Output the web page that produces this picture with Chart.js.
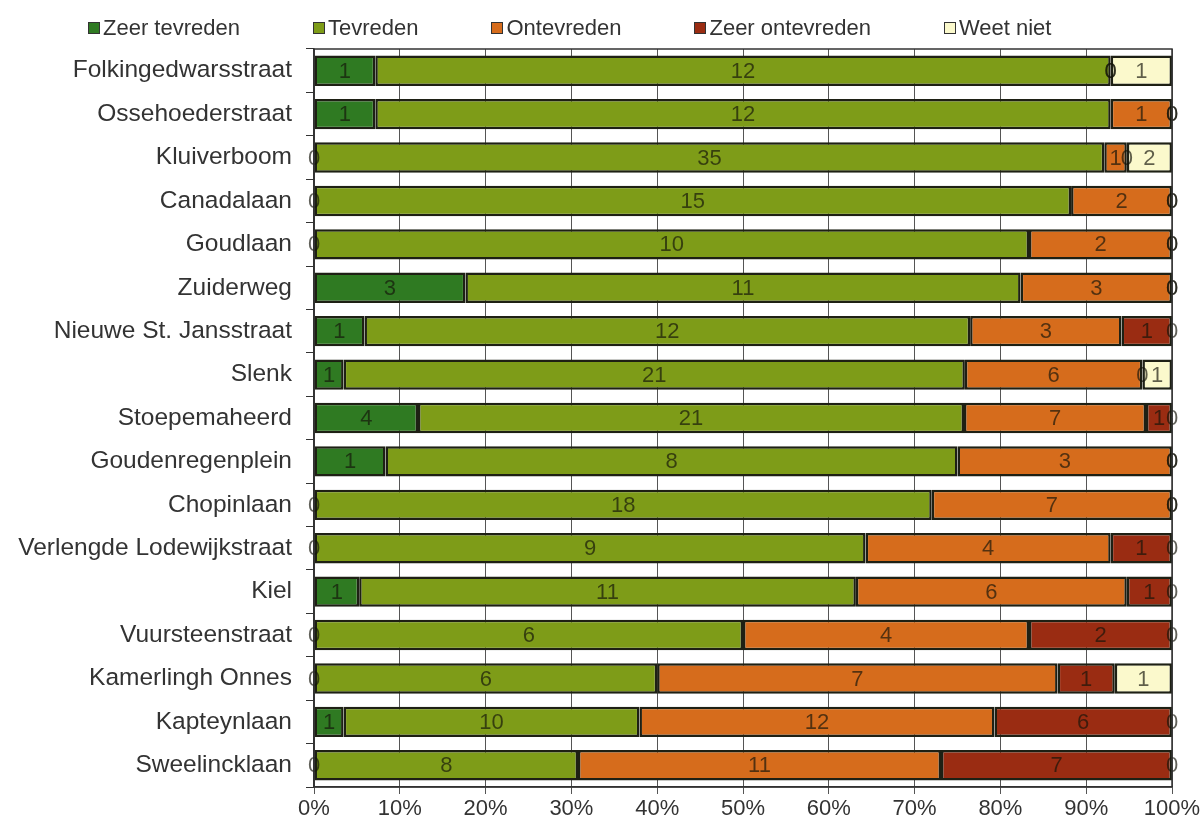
<!DOCTYPE html>
<html>
<head>
<meta charset="utf-8">
<script src="https://cdn.jsdelivr.net/npm/chart.js@4.4.1/dist/chart.umd.min.js"></script>
<style>
  html, body { margin: 0; padding: 0; background: #fff; }
  #wrap { position: relative; width: 1203px; height: 826px; }
  #legend {
    position: absolute; top: 15px; left: 88px;
    display: flex; gap: 73px;
    font: 22px 'Liberation Sans', Arial, sans-serif; color: #333;
  }
  #legend span { display: flex; align-items: center; }
  #legend i {
    display: inline-block; width: 10px; height: 10px; margin-right: 3px;
    border: 1.5px solid #333;
  }
</style>
</head>
<body>
<div id="wrap">
  <canvas id="myChart" width="1203" height="826"></canvas>
  <div id="legend"></div>
</div>
<script>
(() => {
    // Aantal respondenten per straat, per antwoordcategorie
    const streets = [
        'Folkingedwarsstraat',
        'Ossehoederstraat',
        'Kluiverboom',
        'Canadalaan',
        'Goudlaan',
        'Zuiderweg',
        'Nieuwe St. Jansstraat',
        'Slenk',
        'Stoepemaheerd',
        'Goudenregenplein',
        'Chopinlaan',
        'Verlengde Lodewijkstraat',
        'Kiel',
        'Vuursteenstraat',
        'Kamerlingh Onnes',
        'Kapteynlaan',
        'Sweelincklaan'
    ];
    const zeerTevreden   = [1, 1, 0, 0, 0, 3, 1, 1, 4, 1, 0, 0, 1, 0, 0, 1, 0];
    const tevreden       = [12, 12, 35, 15, 10, 11, 12, 21, 21, 8, 18, 9, 11, 6, 6, 10, 8];
    const ontevreden     = [0, 1, 1, 2, 2, 3, 3, 6, 7, 3, 7, 4, 6, 4, 7, 12, 11];
    const zeerOntevreden = [0, 0, 0, 0, 0, 0, 1, 0, 1, 0, 0, 1, 1, 2, 1, 6, 7];
    const weetNiet       = [1, 0, 2, 0, 0, 0, 0, 1, 0, 0, 0, 0, 0, 0, 1, 0, 0];
    const percentTicks   = [0, 10, 20, 30, 40, 50, 60, 70, 80, 90, 100];

    const series = [
        { label: 'Zeer tevreden',   counts: zeerTevreden,   color: '#2f7a22' },
        { label: 'Tevreden',        counts: tevreden,       color: '#7e9c18' },
        { label: 'Ontevreden',      counts: ontevreden,     color: '#d66c1c' },
        { label: 'Zeer ontevreden', counts: zeerOntevreden, color: '#9a2c12' },
        { label: 'Weet niet',       counts: weetNiet,       color: '#fbf9cc' }
    ];

    const totals = streets.map((_, i) => series.reduce((s, d) => s + d.counts[i], 0));

    const font = "'Liberation Sans', Arial, sans-serif";

    // aantallen in de balken, ook de nullen op de grens
    const countLabels = {
        id: 'countLabels',
        afterDatasetsDraw(chart) {
            const { ctx } = chart;
            ctx.save();
            ctx.font = '22px ' + font;
            ctx.textAlign = 'center';
            ctx.textBaseline = 'middle';
            ctx.fillStyle = 'rgba(20, 20, 10, 0.68)';
            chart.data.datasets.forEach((ds, di) => {
                chart.getDatasetMeta(di).data.forEach((bar, i) => {
                    const x = (bar.x + bar.base) / 2;
                    ctx.fillText(String(ds.counts[i]), x, bar.y + 1);
                });
            });
            ctx.restore();
        }
    };

    // kader rond het plotgebied
    const frame = {
        id: 'frame',
        afterDraw(chart) {
            const { ctx, chartArea: a } = chart;
            ctx.save();
            ctx.strokeStyle = '#333';
            ctx.lineWidth = 1.5;
            ctx.strokeRect(a.left, a.top, a.right - a.left, a.bottom - a.top);
            ctx.restore();
        }
    };

    const ctx = document.getElementById('myChart');

    const myChart = new Chart(ctx, {
        type: 'bar',
        data: {
            labels: streets,
            datasets: series.map(s => ({
                label: s.label,
                counts: s.counts,
                data: s.counts.map((v, i) => v / totals[i] * 100),
                backgroundColor: s.color,
                borderColor: '#1e2014',
                borderWidth: 2.5,
                borderSkipped: false,
                categoryPercentage: 1,
                barPercentage: 0.7
            }))
        },
        options: {
            indexAxis: 'y',
            responsive: false,
            animation: false,
            layout: { padding: { top: 49, right: 31, left: 0, bottom: 0 } },
            scales: {
                x: {
                    stacked: true,
                    min: 0,
                    max: 100,
                    afterBuildTicks: (scale) => {
                        scale.ticks = percentTicks.map(v => ({ value: v }));
                    },
                    afterFit: (scale) => { scale.height = 39; },
                    ticks: {
                        color: '#333',
                        padding: 2,
                        font: { family: font, size: 22 },
                        callback: (v) => v + '%'
                    },
                    grid: {
                        color: '#555',
                        lineWidth: 1,
                        tickLength: 7
                    },
                    border: { color: '#333', width: 1.5 }
                },
                y: {
                    stacked: true,
                    afterFit: (scale) => { scale.width = 314; },
                    ticks: {
                        color: '#333',
                        padding: 14,
                        font: { family: font, size: 24.5 }
                    },
                    grid: {
                        drawOnChartArea: false,
                        color: '#333',
                        tickLength: 8,
                        offset: true
                    },
                    border: { color: '#333', width: 1.5 }
                }
            },
            plugins: {
                legend: { display: false },
                tooltip: { enabled: false }
            }
        },
        plugins: [countLabels, frame]
    });

    // legenda boven de grafiek
    const legend = document.getElementById('legend');
    myChart.data.datasets.forEach(ds => {
        const item = document.createElement('span');
        const box = document.createElement('i');
        box.style.background = ds.backgroundColor;
        item.appendChild(box);
        item.appendChild(document.createTextNode(ds.label));
        legend.appendChild(item);
    });
})()
</script>
</body>
</html>
